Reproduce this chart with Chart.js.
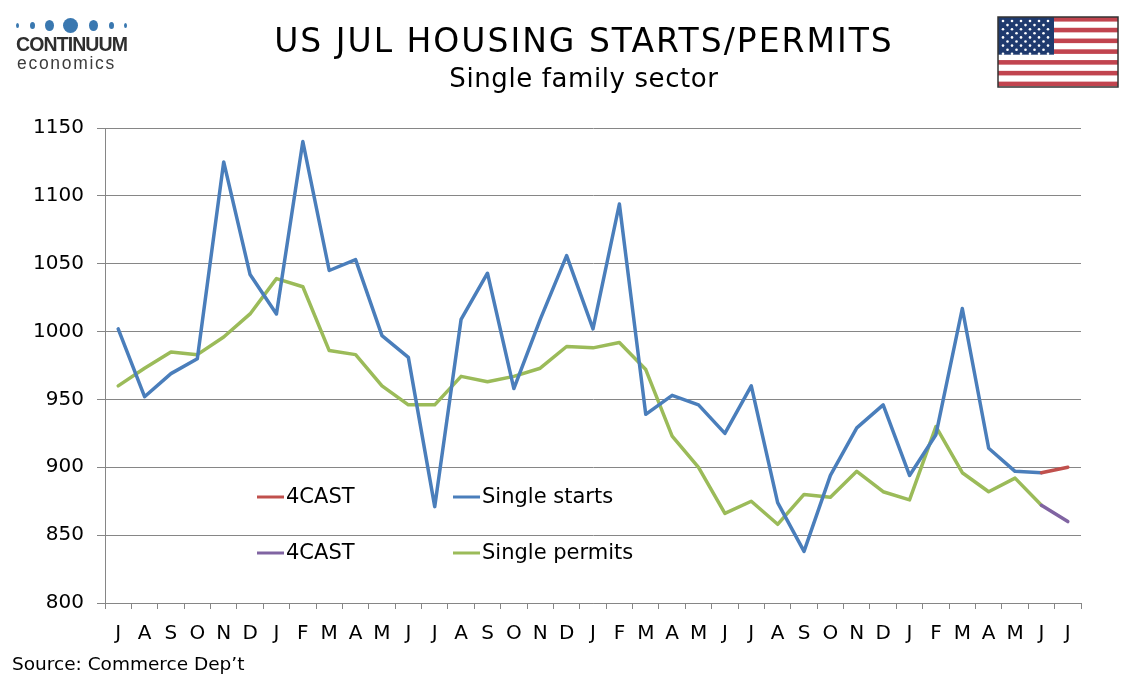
<!DOCTYPE html>
<html>
<head>
<meta charset="utf-8">
<script src="https://cdn.jsdelivr.net/npm/chart.js@4.4.0/dist/chart.umd.min.js"></script>
<style>
  body { margin: 0; background: #fff; font-family: "DejaVu Sans", Verdana, sans-serif; }
  #wrap { position: relative; width: 1134px; height: 680px; overflow: hidden; }
  #chart { position: absolute; left: 0; top: 0; }
  .txt { position: absolute; white-space: nowrap; color: #000; }
  #title { left: 0; width: 1168px; text-align: center; top: 24px; font-size: 33px; line-height: 33px; letter-spacing: 2px; }
  #subtitle { left: 0; width: 1168px; text-align: center; top: 65px; font-size: 26px; line-height: 26px; letter-spacing: 0.6px; }
  #source { left: 12px; top: 655px; font-size: 18.5px; line-height: 18.5px; }
  #logo1 { left: 16px; top: 35px; font-size: 19.5px; line-height: 19.5px; font-weight: bold; color: #2e2e2e; letter-spacing: -0.9px; font-family: "Liberation Sans", Arial, sans-serif; }
  #logo2 { left: 17px; top: 55px; font-size: 17.5px; line-height: 17.5px; color: #3c3c3c; letter-spacing: 1.7px; font-family: "Liberation Sans", Arial, sans-serif; }
  .dot { position: absolute; background: #3a78b0; border-radius: 50%; }
  #flag { position: absolute; left: 997px; top: 16px; }
</style>
</head>
<body>
<div id="wrap">
  <canvas id="chart" width="1134" height="680"></canvas>
  <div class="txt" id="title">US JUL HOUSING STARTS/PERMITS</div>
  <div class="txt" id="subtitle">Single family sector</div>
  <div class="txt" id="source">Source: Commerce Dep’t</div>
  <div class="dot" style="left:16px;top:23px;width:3px;height:5px"></div>
  <div class="dot" style="left:30px;top:22px;width:5px;height:7px"></div>
  <div class="dot" style="left:45px;top:20px;width:9px;height:11px"></div>
  <div class="dot" style="left:63px;top:18px;width:15px;height:15px"></div>
  <div class="dot" style="left:89px;top:20px;width:9px;height:11px"></div>
  <div class="dot" style="left:109px;top:22px;width:5px;height:7px"></div>
  <div class="dot" style="left:124px;top:23px;width:3px;height:5px"></div>
  <div class="txt" id="logo1">CONTINUUM</div>
  <div class="txt" id="logo2">economics</div>
  <canvas id="flag" width="122" height="72"></canvas>
</div>
<script>
var months = ["J","A","S","O","N","D",
    "J","F","M","A","M","J","J","A","S","O","N","D",
    "J","F","M","A","M","J","J","A","S","O","N","D",
    "J","F","M","A","M","J","J"];

// single family starts, thousands saar (last month is the forecast)
var starts = [1002, 952, 969, 980, 1125, 1042,
    1013, 1140, 1045, 1053, 997, 981, 871, 1009, 1043, 958, 1009, 1056,
    1002, 1094, 939, 953, 946, 925, 960, 874, 838, 894, 929, 946,
    894, 924, 1017, 914, 897, 896];
var startsFcst = 900;

// single family permits
var permits = [960, 973, 985, 983, 996, 1013,
    1039, 1033, 986, 983, 960, 946, 946, 967, 963, 967, 973, 989,
    988, 992, 972, 923, 900, 866, 875, 858, 880, 878, 897, 882,
    876, 930, 896, 882, 892, 872];
var permitsFcst = 860;

var yTicks = [800, 850, 900, 950, 1000, 1050, 1100, 1150];

function fcstLine(actual, fcst){
    var out = [];
    for(var i = 0; i < months.length; i++) out.push(null);
    out[actual.length - 1] = actual[actual.length - 1];
    out[actual.length] = fcst;
    return out;
}

var legendPlugin = {
    id: "boxLegend",
    afterDraw: function(chart){
        var ctx = chart.ctx;
        var spots = [[257, 497], [453, 497], [257, 553], [453, 553]];
        ctx.save();
        ctx.font = "21px 'DejaVu Sans'";
        ctx.textBaseline = "middle";
        ctx.fillStyle = "#000";
        chart.data.datasets.forEach(function(ds){
            var p = spots[ds.legendSlot];
            ctx.strokeStyle = ds.borderColor;
            ctx.lineWidth = 3;
            ctx.beginPath();
            ctx.moveTo(p[0], p[1]);
            ctx.lineTo(p[0] + 27, p[1]);
            ctx.stroke();
            ctx.fillText(ds.label, p[0] + 29, p[1] + 1);
        });
        ctx.restore();
    }
};

var ctx = document.getElementById("chart").getContext("2d");
var chart = new Chart(ctx, {
    type: "line",
    data: {
        labels: months,
        datasets: [{
            label: "4CAST",
            legendSlot: 0,
            data: fcstLine(starts, startsFcst),
            borderColor: "#c0504d"
        },{
            label: "Single starts",
            legendSlot: 1,
            data: starts,
            borderColor: "#4a7ebb"
        },{
            label: "4CAST",
            legendSlot: 2,
            data: fcstLine(permits, permitsFcst),
            borderColor: "#8064a2"
        },{
            label: "Single permits",
            legendSlot: 3,
            data: permits,
            borderColor: "#9bbb59"
        }]
    },
    options: {
        responsive: false,
        animation: false,
        spanGaps: false,
        layout: { padding: { left: 0, top: 128, right: 53, bottom: 32 } },
        elements: {
            point: { radius: 0, hoverRadius: 0 },
            line: { tension: 0, borderWidth: 3.5, borderCapStyle: "round", borderJoinStyle: "round" }
        },
        plugins: {
            legend: { display: false },
            tooltip: { enabled: false },
            title: { display: false }
        },
        scales: {
            x: {
                offset: true,
                grid: { display: true, drawOnChartArea: false, drawTicks: true, tickLength: 6, offset: true, color: "#868686" },
                border: { color: "#868686", width: 1 },
                ticks: { color: "#000", font: { family: "DejaVu Sans", size: 20 }, padding: 13, maxRotation: 0, autoSkip: false },
                afterFit: function(s){ s.height = 45; }
            },
            y: {
                min: 800,
                max: 1150,
                afterBuildTicks: function(s){ s.ticks = yTicks.map(function(v){ return { value: v }; }); },
                grid: { color: "#868686", tickLength: 8 },
                border: { color: "#868686", width: 1 },
                ticks: {
                    color: "#000",
                    font: { family: "DejaVu Sans", size: 20 },
                    padding: 13,
                    callback: function(v){ return String(v); }
                },
                afterFit: function(s){ s.width = 105; }
            }
        }
    },
    plugins: [legendPlugin]
});

// flag
var f = document.getElementById("flag").getContext("2d");
var fw = 120, fh = 70;
f.fillStyle = "#fff";
f.fillRect(1, 1, fw, fh);
for(var s = 0; s < 13; s += 2){
    f.fillStyle = "#c1444f";
    f.fillRect(1, 1 + s * fh / 13, fw, fh / 13 - 0.8);
}
f.fillStyle = "#1f3a6e";
f.fillRect(1, 1, 56, 7 * fh / 13);
f.fillStyle = "#fff";
for(var r = 0; r < 9; r++){
    var n = r % 2 === 0 ? 6 : 5;
    for(var c = 0; c < n; c++){
        var sx = 1 + 5 + c * 9 + (r % 2 ? 4.5 : 0);
        var sy = 1 + 4 + r * 4.1;
        f.beginPath();
        f.arc(sx, sy, 1.3, 0, Math.PI * 2);
        f.fill();
    }
}
f.strokeStyle = "#333";
f.lineWidth = 1.5;
f.strokeRect(1, 1, fw, fh);
</script>
</body>
</html>
